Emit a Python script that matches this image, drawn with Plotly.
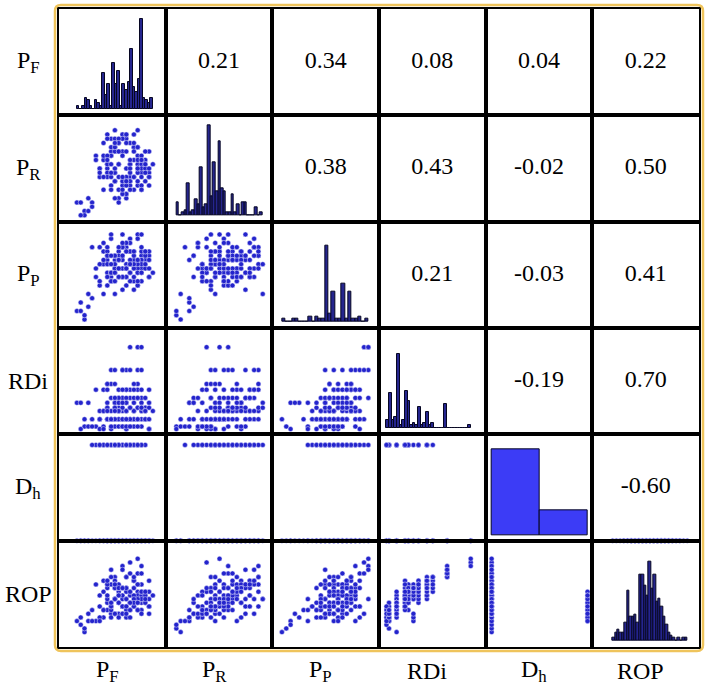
import plotly.graph_objects as go
from plotly.subplots import make_subplots

# ---------------- data ----------------
labels = ["P<sub>F</sub>", "P<sub>R</sub>", "P<sub>P</sub>", "RDi", "D<sub>h</sub>", "ROP"]

PF = [0, 1, 2, 2, 3, 1, 4, 3,
      5, 7, 9, 11, 13, 15, 17, 8, 10, 12, 14, 16, 6, 18, 4, 12, 9, 14, 11, 16, 13, 10, 15, 7,
      8, 11, 14, 17, 6, 13, 16, 10,
      14, 16, 17,
      9, 10, 12, 13, 14, 16, 17, 12,
      8, 9, 10, 8,
      5, 7, 11, 13, 15, 17, 19, 12,
      9, 10, 12, 14, 16, 18, 11, 13,
      8, 10, 13, 15, 17, 19,
      6, 7, 9, 11, 13, 15, 17, 20, 8, 10, 12, 14, 16, 18, 19, 11,
      6, 8, 9, 11, 12, 14, 15, 17, 18, 13, 10, 16,
      7, 9, 11, 13, 15, 17, 19, 12,
      8, 9, 10, 11, 12, 13, 14, 15, 16, 17, 18, 19, 8, 10, 12, 14, 16, 18, 9, 11, 13, 15, 17, 19, 10, 12, 14, 16, 18, 13]
PR = [3, 3, 1, 0, 4, 0, 3, 1,
      14, 6, 18, 9, 5, 16, 10, 12, 20, 8, 17, 7, 11, 13, 2, 19, 15, 9, 4, 12, 18, 16, 6, 13,
      11, 15, 8, 13, 9, 17, 14, 10,
      7, 10, 12,
      16, 8, 19, 9, 12, 11, 13, 18,
      10, 14, 8, 9,
      13, 17, 6, 19, 9, 11, 15, 7,
      14, 18, 5, 10, 16, 8, 12, 11,
      12, 15, 4, 9, 6, 10,
      11, 14, 7, 17, 5, 13, 9, 12, 19, 10, 15, 8, 20, 12, 9, 18,
      10, 14, 6, 17, 8, 12, 16, 7, 11, 19, 4, 13,
      9, 12, 3, 8, 15, 6, 11, 5,
      13, 9, 16, 12, 6, 15, 11, 17, 8, 14, 10, 7, 18, 11, 9, 13, 16, 12, 10, 15, 7, 19, 13, 9, 17, 14, 6, 11, 15, 8]
PP = [2, 4, 0, 1, 3, 2, 5, 6,
      12, 13, 19, 10, 18, 7, 12, 14, 6, 20, 16, 11, 8, 14, 17, 15, 10, 13, 15, 8, 17, 11, 9, 16,
      11, 16, 9, 15, 13, 10, 12, 14,
      19, 20, 20,
      20, 12, 17, 16, 18, 19, 14, 10,
      16, 11, 15, 13,
      10, 18, 12, 13, 16, 14, 15, 17,
      9, 12, 17, 11, 14, 13, 15, 18,
      8, 12, 10, 14, 13, 16,
      9, 14, 11, 12, 18, 12, 16, 11, 15, 13, 14, 16, 13, 15, 10, 17,
      17, 10, 13, 14, 7, 11, 15, 9, 12, 12, 15, 8,
      6, 9, 14, 8, 13, 11, 10, 12,
      17, 11, 15, 12, 10, 16, 13, 10, 14, 17, 13, 12, 15, 9, 18, 14, 11, 16, 15, 10, 12, 16, 11, 14, 11, 15, 13, 9, 16, 12]
RDi = [32, 32, 12, 3, 32, 0, 12, 3,
       3, 3, 12, 12, 0, 22, 22, 26, 32, 38, 48, 55, 12, 26, 3, 22, 0, 12, 38, 26, 48, 3, 12, 22,
       12, 26, 3, 38, 0, 22, 48, 12,
       100, 100, 100,
       72, 72, 72, 72, 72, 72, 72, 72,
       55, 55, 55, 55,
       48, 48, 48, 48, 48, 48, 48, 48,
       38, 38, 38, 38, 38, 38, 38, 38,
       32, 32, 32, 32, 32, 32,
       22, 22, 22, 22, 22, 22, 22, 22, 26, 26, 26, 26, 26, 26, 26, 22,
       12, 12, 12, 12, 12, 12, 12, 12, 12, 12, 12, 12,
       0, 3, 3, 0, 3, 3, 0, 3,
       22, 12, 26, 22, 3, 32, 12, 38, 3, 26, 12, 0, 48, 22, 12, 26, 38, 22, 12, 32, 3, 55, 26, 12, 38, 32, 3, 12, 22, 12]
Dh = [0] * 8 + [1] * 32 + [0] * 103
ROP = [3, 4, 0, 1, 5, 2, 6, 3,
       3, 4, 5, 5, 4, 7, 8, 8, 9, 9, 10, 11, 4, 10, 3, 7, 4, 6, 8, 6, 9, 5, 7, 6,
       6, 8, 4, 9, 3, 7, 10, 5,
       19, 20, 18,
       17, 15, 18, 15, 16, 16, 16, 17,
       14, 15, 12, 13,
       13, 14, 11, 15, 12, 13, 14, 12,
       13, 14, 10, 11, 13, 11, 12, 12,
       12, 13, 9, 10, 10, 11,
       10, 11, 8, 12, 7, 14, 9, 10, 13, 9, 12, 8, 9, 10, 9, 13,
       7, 9, 6, 10, 7, 8, 9, 6, 8, 11, 5, 8,
       6, 7, 4, 6, 8, 5, 7, 5,
       10, 7, 12, 10, 5, 12, 8, 14, 6, 11, 8, 5, 14, 9, 7, 11, 13, 9, 8, 12, 5, 15, 11, 7, 13, 12, 6, 8, 11, 7]

# histogram bin counts on the diagonal
PF_hist = [1, 0, 1, 4, 3, 1, 0, 3, 2, 1, 13, 5, 9, 1, 17, 9, 14, 1, 9, 7, 10, 22, 8, 6, 11, 33, 4, 3, 2, 4]
PR_hist = [5, 0, 1, 2, 12, 1, 2, 6, 4, 18, 3, 4, 34, 7, 20, 9, 28, 10, 9, 1, 1, 8, 1, 4, 0, 5, 5, 0, 0, 0, 3, 0, 1]
PP_hist = [1, 0, 0, 1, 1, 0, 0, 0, 2, 0, 2, 1, 1, 28, 3, 11, 1, 1, 14, 1, 11, 1, 1, 2, 0, 1]
RDi_hist = [3, 13, 3, 4, 28, 1, 3, 14, 10, 1, 2, 1, 8, 1, 2, 6, 1, 2, 0, 0, 0, 0, 9, 0, 0, 0, 0, 0, 0, 0, 0, 1]
ROP_hist = [1, 3, 4, 3, 3, 7, 19, 9, 9, 10, 7, 25, 25, 21, 17, 30, 20, 25, 15, 16, 13, 9, 6, 3, 2, 1, 0, 1, 0, 1, 1]

corr_values = [0.21, 0.34, 0.08, 0.04, 0.22,
               0.38, 0.43, -0.02, 0.50,
               0.21, -0.03, 0.41,
               -0.19, 0.70,
               -0.60]

# ---------------- layout helpers ----------------
columns = [PF, PR, PP, RDi, Dh, ROP]
hists = {0: PF_hist, 1: PR_hist, 2: PP_hist, 3: RDi_hist, 5: ROP_hist}
N = 6
# fraction of a cell where min..max of each variable sits
x_frac = [(0.168, 0.88), (0.10, 0.91), (0.09, 0.90), (0.07, 0.86), (0.056, 0.955), (0.19, 0.89)]
y_frac = [(0.06, 0.86), (0.06, 0.86), (0.08, 0.88), (0.05, 0.82), (0.0, 0.90), (0.14, 0.83)]
hist_top = [0.905, 0.91, 0.77, 0.76, 0.86, 0.80]
hist_base = [0.063, 0.06, 0.06, 0.06, 0.05, 0.06]

DOT = "#2424cc"
DOT_EDGE = "rgba(235,235,255,0.8)"
BAR_NARROW = "#25258e"
BAR_WIDE = "#3c3cf6"
BAR_LINE = "#060622"
FONT = "Liberation Serif, Times New Roman, Times, serif"


def span_range(dmin, dmax, a, b):
    s = (dmax - dmin) / (b - a)
    lo = dmin - a * s
    return [lo, lo + s]


fig = make_subplots(rows=N, cols=N, horizontal_spacing=0, vertical_spacing=0)

axis_style = dict(showline=True, mirror=True, linecolor="black", linewidth=2,
                  showticklabels=False, showgrid=False, zeroline=False, ticks="",
                  fixedrange=True)

k = 0
for r in range(N):
    for c in range(N):
        xr = span_range(min(columns[c]), max(columns[c]), *x_frac[c])
        yr = [0, 1]
        if r == c:
            data = columns[c]
            dmin, dmax = min(data), max(data)
            if c == 4:
                counts = [Dh.count(0), Dh.count(1)]
                fill = BAR_WIDE
            else:
                counts = hists[c]
                fill = BAR_NARROW
            nb = len(counts)
            w = (dmax - dmin) / nb
            centers = [dmin + (i + 0.5) * w for i in range(nb)]
            fig.add_trace(go.Bar(x=centers, y=counts, width=w,
                                 marker=dict(color=fill, line=dict(color=BAR_LINE, width=1)),
                                 showlegend=False, hoverinfo="skip"), row=r + 1, col=c + 1)
            M = max(counts)
            b0, t0 = hist_base[c], hist_top[c]
            L = M / (t0 - b0)
            yr = [-b0 * L, -b0 * L + L]
        elif r > c:
            fig.add_trace(go.Scatter(x=columns[c], y=columns[r], mode="markers",
                                     marker=dict(color=DOT, size=5, line=dict(color=DOT_EDGE, width=0.6)),
                                     cliponaxis=False, showlegend=False, hoverinfo="skip"),
                          row=r + 1, col=c + 1)
            yr = span_range(min(columns[r]), max(columns[r]), *y_frac[r])
        else:
            if r == 4 and c == 5:
                # points of the Dh = min level that sit on the lower edge of this cell
                xs = [v for v, d in zip(ROP, Dh) if d == 0]
                ys = [d for d in Dh if d == 0]
                fig.add_trace(go.Scatter(x=xs, y=ys, mode="markers",
                                         marker=dict(color=DOT, size=5, line=dict(color=DOT_EDGE, width=0.6)),
                                         cliponaxis=False, showlegend=False, hoverinfo="skip"),
                              row=r + 1, col=c + 1)
                yr = span_range(min(Dh), max(Dh), *y_frac[4])
            else:
                xr = [0, 1]
            val = corr_values[k]
            k += 1
            fig.add_trace(go.Scatter(x=[(xr[0] + xr[1]) / 2], y=[(yr[0] + yr[1]) / 2], mode="text",
                                     text=[f"{val:.2f}"], textposition="middle center",
                                     textfont=dict(family=FONT, size=24, color="black"),
                                     cliponaxis=False, showlegend=False, hoverinfo="skip"),
                          row=r + 1, col=c + 1)
        fig.update_xaxes(range=xr, **axis_style, row=r + 1, col=c + 1)
        fig.update_yaxes(range=yr, **axis_style, row=r + 1, col=c + 1)

# variable names
for i, name in enumerate(labels):
    fig.add_annotation(x=-0.048, y=1 - (i + 0.5) / N, xref="paper", yref="paper", text=name,
                       showarrow=False, xanchor="center", yanchor="middle",
                       font=dict(family=FONT, size=24, color="black"))
    fig.add_annotation(x=(i + 0.5) / N, y=-0.0375, xref="paper", yref="paper", text=name,
                       showarrow=False, xanchor="center", yanchor="middle", xshift=-5,
                       font=dict(family=FONT, size=24, color="black"))

# gold rounded frame
W, H = 641.0, 640.0
x0, x1 = -4 / W, 1 + 4 / W
y0, y1 = -4 / H, 1 + 4 / H
rx, ry = 6 / W, 6 / H
path = (f"M {x0 + rx},{y1} L {x1 - rx},{y1} Q {x1},{y1} {x1},{y1 - ry} "
        f"L {x1},{y0 + ry} Q {x1},{y0} {x1 - rx},{y0} L {x0 + rx},{y0} "
        f"Q {x0},{y0} {x0},{y0 + ry} L {x0},{y1 - ry} Q {x0},{y1} {x0 + rx},{y1} Z")
fig.add_shape(type="path", path=path, xref="paper", yref="paper",
              line=dict(color="#efc45c", width=2.5), layer="above")

fig.update_layout(width=708, height=685, margin=dict(l=59, r=8, t=7, b=38),
                  paper_bgcolor="white", plot_bgcolor="white", showlegend=False,
                  bargap=0, font=dict(family=FONT))

fig.write_html("out.html", config={"displayModeBar": False},
               post_script="document.body.style.margin='0px';")
